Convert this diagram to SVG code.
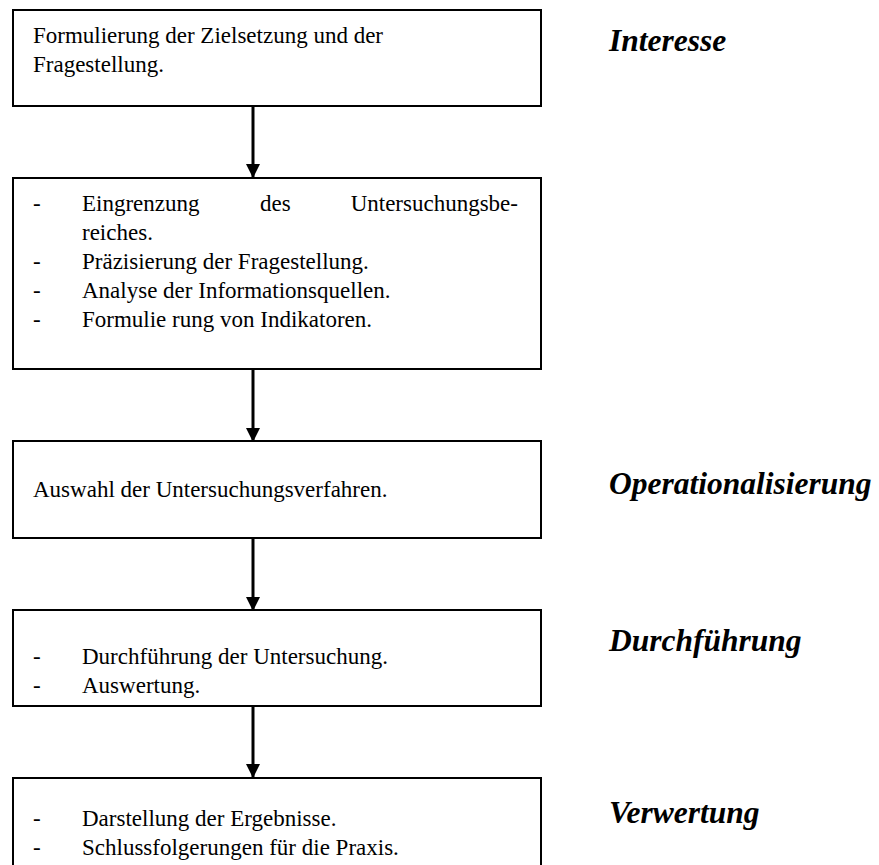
<svg xmlns="http://www.w3.org/2000/svg" width="879" height="865" viewBox="0 0 879 865">
<style>
.box{fill:#fff;stroke:#000;stroke-width:2}
.t{font-family:'Liberation Serif','Times New Roman',Times,serif;font-size:23px;fill:#000}
.lab{font-family:'Liberation Serif','Times New Roman',Times,serif;font-size:31.5px;font-weight:bold;font-style:italic;fill:#000}
.arr{stroke:#000;stroke-width:3;fill:none}
</style>
<defs>
<marker id="ah" markerWidth="14" markerHeight="16" refX="13" refY="7" orient="auto" markerUnits="userSpaceOnUse" viewBox="0 0 14 14">
<path d="M0,0 L14,7 L0,14 Z" fill="#000"/>
</marker>
</defs>
<rect width="879" height="865" fill="#fff"/>
<g id="connectors">
<line class="arr" x1="253" y1="106" x2="253" y2="177" marker-end="url(#ah)"/>
<line class="arr" x1="253" y1="369" x2="253" y2="441" marker-end="url(#ah)"/>
<line class="arr" x1="253" y1="538" x2="253" y2="610" marker-end="url(#ah)"/>
<line class="arr" x1="253" y1="706" x2="253" y2="777" marker-end="url(#ah)"/>
</g>
<g id="n1">
<rect class="box" x="13" y="10" width="528" height="96"/>
<text class="t" x="33" y="43">Formulierung der Zielsetzung und der</text>
<text class="t" x="33" y="72">Fragestellung.</text>
</g>
<g id="n2">
<rect class="box" x="13" y="178" width="528" height="191"/>
<text class="t" x="33" y="211">-</text>
<text class="t" x="82" y="211">Eingrenzung</text>
<text class="t" x="260" y="211">des</text>
<text class="t" x="518" y="211" text-anchor="end">Untersuchungsbe-</text>
<text class="t" x="82" y="240">reiches.</text>
<text class="t" x="33" y="269">-</text>
<text class="t" x="82" y="269">Präzisierung der Fragestellung.</text>
<text class="t" x="33" y="298">-</text>
<text class="t" x="82" y="298">Analyse der Informationsquellen.</text>
<text class="t" x="33" y="327">-</text>
<text class="t" x="82" y="327">Formulie rung von Indikatoren.</text>
</g>
<g id="n3">
<rect class="box" x="13" y="441" width="528" height="97"/>
<text class="t" x="33" y="497">Auswahl der Untersuchungsverfahren.</text>
</g>
<g id="n4">
<rect class="box" x="13" y="610" width="528" height="96"/>
<text class="t" x="33" y="664">-</text>
<text class="t" x="82" y="664">Durchführung der Untersuchung.</text>
<text class="t" x="33" y="693">-</text>
<text class="t" x="82" y="693">Auswertung.</text>
</g>
<g id="n5">
<rect class="box" x="13" y="778" width="528" height="100"/>
<text class="t" x="33" y="826">-</text>
<text class="t" x="82" y="826">Darstellung der Ergebnisse.</text>
<text class="t" x="33" y="855">-</text>
<text class="t" x="82" y="855">Schlussfolgerungen für die Praxis.</text>
</g>
<g id="labels">
<text class="lab" x="609" y="51">Interesse</text>
<text class="lab" x="609" y="494">Operationalisierung</text>
<text class="lab" x="609" y="651">Durchführung</text>
<text class="lab" x="609" y="823">Verwertung</text>
</g>
</svg>
